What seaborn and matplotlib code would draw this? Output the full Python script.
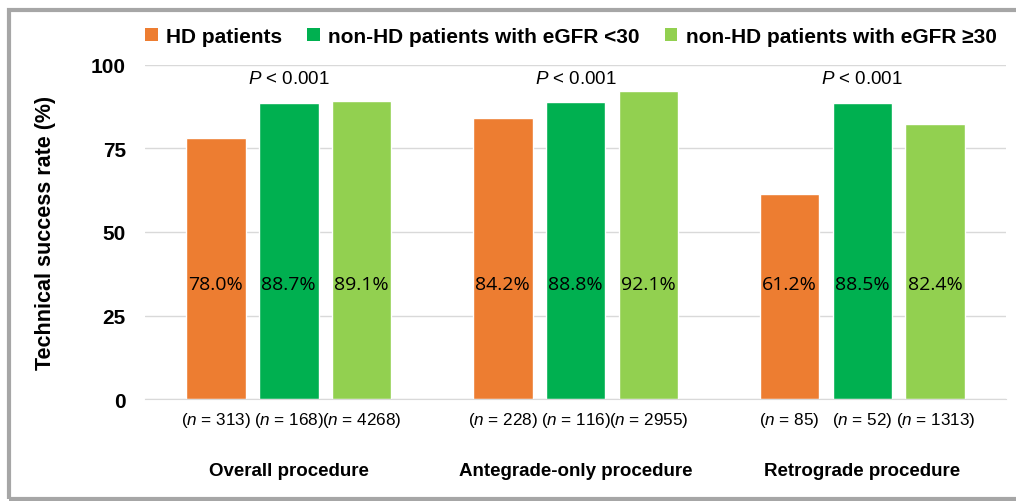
import pandas as pd
import seaborn as sns
import matplotlib.pyplot as plt
from matplotlib.patches import Rectangle, Patch

# chart values
procedures = ['Overall procedure', 'Antegrade-only procedure', 'Retrograde procedure']
groups = ['HD patients', 'non-HD patients with eGFR <30', 'non-HD patients with eGFR \u226530']
hd_rate = [78.0, 84.2, 61.2]
low_egfr_rate = [88.7, 88.8, 88.5]
high_egfr_rate = [89.1, 92.1, 82.4]
hd_n = [313, 228, 85]
low_egfr_n = [168, 116, 52]
high_egfr_n = [4268, 2955, 1313]
p_labels = ['< 0.001', '< 0.001', '< 0.001']
colors = ['#ED7D31', '#00B050', '#92D050']

rows = []
for i, proc in enumerate(procedures):
    for grp, rate, n in zip(groups, [hd_rate, low_egfr_rate, high_egfr_rate], [hd_n, low_egfr_n, high_egfr_n]):
        rows.append({'procedure': proc, 'group': grp, 'rate': rate[i], 'n': n[i]})
df = pd.DataFrame(rows)

sns.set_style('white')
plt.rcParams['font.family'] = ['Liberation Sans', 'DejaVu Sans']
plt.rcParams['text.color'] = 'black'
plt.rcParams['axes.labelcolor'] = 'black'
plt.rcParams['xtick.color'] = 'black'
plt.rcParams['ytick.color'] = 'black'
plt.rcParams['mathtext.fontset'] = 'custom'
plt.rcParams['mathtext.it'] = 'Liberation Sans:italic'
plt.rcParams['mathtext.rm'] = 'Liberation Sans'

fig = plt.figure(figsize=(10.16, 5.02), dpi=100)
ax = fig.add_axes([0.143, 0.203, 0.847, 0.666])

sns.barplot(data=df, x='procedure', y='rate', hue='group', order=procedures, hue_order=groups,
            palette=colors, width=0.762, gap=0.18, ax=ax, legend=False, saturation=1)

ax.set_ylim(0, 100)
ax.set_xlim(-0.5, 2.5)
ax.set_yticks([0, 25, 50, 75, 100])
ax.yaxis.grid(True, color='#d9d9d9', linewidth=1)
ax.set_axisbelow(True)
for s in ['top', 'right', 'left']:
    ax.spines[s].set_visible(False)
ax.spines['bottom'].set_color('#d9d9d9')
ax.tick_params(axis='both', length=0)
ax.tick_params(axis='y', pad=14)
ax.tick_params(axis='x', pad=45)
for lbl in ax.get_yticklabels():
    lbl.set_fontweight('bold')
    lbl.set_fontsize(15)
for lbl in ax.get_xticklabels():
    lbl.set_fontweight('bold')
    lbl.set_fontsize(13.5)
ax.set_xlabel('')
ax.set_ylabel('Technical success rate (%)', fontsize=15.5, fontweight='bold', labelpad=25)

# value labels and n labels per bar
for grp_idx, container in enumerate(ax.containers):
    for proc_idx, bar in enumerate(container):
        cx = bar.get_x() + bar.get_width() / 2
        val = df[(df['group'] == groups[grp_idx]) & (df['procedure'] == procedures[proc_idx])]
        ax.text(cx, 34.5, f"{val['rate'].iloc[0]:.1f}%", ha='center', va='center',
                fontsize=14, family=['Open Sans', 'DejaVu Sans'])
        ax.annotate(f"($\\it{{n}}$ = {val['n'].iloc[0]})", xy=(cx, 0), xycoords='data',
                    xytext=(0, -15), textcoords='offset points', ha='center', va='center',
                    fontsize=12.3)

for i, p in enumerate(p_labels):
    ax.text(i, 96, f"$\\it{{P}}$ {p}", ha='center', va='center', fontsize=13.5)

handles = [Patch(facecolor=c, edgecolor='none') for c in colors]
fig.legend(handles, groups, loc='center', bbox_to_anchor=(0.562, 0.926), ncol=3, frameon=False,
           handlelength=0.6, handleheight=0.6, handletextpad=0.4, columnspacing=1.2,
           prop={'weight': 'bold', 'size': 15})

# grey frame around the figure
fig.patches.append(Rectangle((0.009, 0.004), 1.2, 0.975, transform=fig.transFigure,
                             fill=False, edgecolor='#a6a6a6', linewidth=3))

fig.savefig('out.png', dpi=100)
